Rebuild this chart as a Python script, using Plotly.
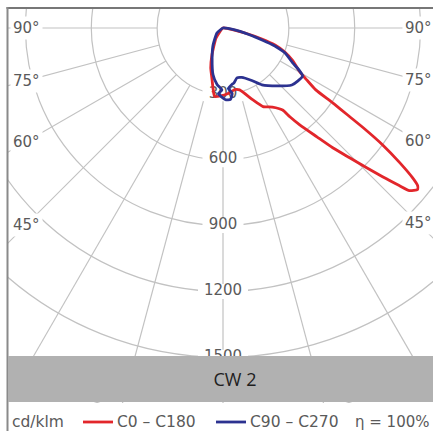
import numpy as np
import plotly.graph_objects as go

# ---------------- data ----------------
# polar angle gamma in degrees measured from nadir (negative = C180 / C270 side)
red_gamma = [-45, -35, -22, -17, -13, -9.5, -7, -2, 4, 11, 15, 22.6, 27, 32, 36,
             37, 38.4, 40.8, 42.5, 44.3, 45.8, 47, 48.2, 48.9, 50.3, 51, 51.7,
             52.7, 53.8, 54.5, 55, 55.7, 56.3, 58.2, 60.3, 64.8, 68.8, 71.9,
             74.2, 77.2, 84, 90]
red_I = [0, 55, 136, 191, 228, 277, 314, 309, 300, 286, 292, 355, 402, 425, 462,
         506, 563, 655, 740, 826, 913, 994, 1077, 1127, 1152, 1141, 1100,
         1012, 900, 798, 705, 605, 508, 449, 403, 352, 302, 249,
         184, 103, 23, 0]

blue_gamma = [-90, -50, -30, -20, -12, -6, -1, -4, 2, 6, 8, 5, 9.5, 11.3, 15.6,
              20.8, 28.7, 34.4, 43.5, 50.4, 54.8, 59, 60.8, 63.4, 68, 70.9, 73,
              77, 85, 90]
blue_I = [0, 36, 91, 145, 218, 259, 282, 300, 327, 327, 300, 277, 259, 255, 236,
          241, 273, 314, 364, 407, 418, 423, 400, 355, 305, 250, 186,
          103, 23, 0]

radial_ticks = [300, 600, 900, 1200, 1500]
radial_tick_labels = ["300", "600", "900", "1200", "1500"]
angle_ticks = [90, 75, 60, 45]
angle_tick_labels = ["90°", "75°", "60°", "45°"]
grid_angles = [-90, -75, -60, -45, -30, -15, 0, 15, 30, 45, 60, 75, 90]
series_names = ["C0 – C180", "C90 – C270"]
unit_label = "cd/klm"
efficiency_label = "η = 100%"
title_label = "CW 2"

# ---------------- layout geometry ----------------
W, H = 433, 434
ML, MR, MT, MB = 8, 0, 9, 31
CX, CY = 223, 28          # pixel position of polar origin
S = 0.2195                # pixels per cd/klm
GRID = "#c2c2c2"
LABEL = "#5a5a5a"
FONT = "DejaVu Sans"

xr = [-(CX - ML) / S, (W - MR - CX) / S]
yr = [-(H - MB - CY) / S, (CY - MT) / S]


def px(x):
    return (x - ML) / (W - ML - MR)


def py(y):
    return (H - MB - y) / (H - MT - MB)


def to_xy(g, I):
    g = np.radians(np.asarray(g, float))
    I = np.asarray(I, float)
    return I * np.sin(g), -I * np.cos(g)


shapes = []
# grid circles
for r in radial_ticks + [radial_ticks[-1] + 300]:
    shapes.append(dict(type="circle", xref="x", yref="y", x0=-r, x1=r, y0=-r, y1=r,
                       line=dict(color=GRID, width=1.2), layer="below"))
# radial grid lines (start on the innermost circle)
r0, r1 = radial_ticks[0], 3000
for a in grid_angles:
    x0, y0 = to_xy([a], [r0])
    x1, y1 = to_xy([a], [r1])
    shapes.append(dict(type="line", xref="x", yref="y", x0=x0[0], y0=y0[0],
                       x1=x1[0], y1=y1[0], line=dict(color=GRID, width=1.2),
                       layer="below"))
# white boxes behind radial tick labels
for r, lab in zip(radial_ticks, radial_tick_labels):
    wpx = 14 + 9 * len(lab)
    hpx = 15
    shapes.append(dict(type="rect", xref="x", yref="y",
                       x0=-wpx / 2 / S, x1=wpx / 2 / S,
                       y0=-r - hpx / 2 / S, y1=-r + hpx / 2 / S,
                       fillcolor="white", line=dict(width=0), layer="below"))

# frame borders
shapes.append(dict(type="line", xref="paper", yref="paper", x0=px(6.5), x1=px(440),
                   y0=py(8), y1=py(8), line=dict(color="#777777", width=2.2)))
shapes.append(dict(type="line", xref="paper", yref="paper", x0=px(7.5), x1=px(7.5),
                   y0=py(7), y1=py(431), line=dict(color="#8a8a8a", width=2)))

fig = go.Figure()

# radial tick labels (under the curves)
fig.add_trace(go.Scatter(
    x=[0] * len(radial_ticks), y=[-r for r in radial_ticks],
    text=radial_tick_labels, mode="text", textposition="middle center",
    textfont=dict(family=FONT, size=15, color=LABEL),
    hoverinfo="skip", showlegend=False))

colors = ["#e2262b", "#2c3290"]
for g, I, name, col in [(red_gamma, red_I, series_names[0], colors[0]),
                        (blue_gamma, blue_I, series_names[1], colors[1])]:
    x, y = to_xy(g, I)
    fig.add_trace(go.Scatter(x=x, y=y, mode="lines", name=name,
                             line=dict(color=col, width=2.8, shape="spline",
                                       smoothing=0.5),
                             showlegend=False))

annotations = []
# angle labels on both frame sides
for a, lab in zip(angle_ticks, angle_tick_labels):
    for side, off in [(-1, CX - 26), (1, 418 - CX)]:
        d = off / S
        yv = -d / np.tan(np.radians(a)) if a != 90 else 0.0
        annotations.append(dict(x=side * d, y=yv, xref="x", yref="y", text=lab,
                                showarrow=False, xanchor="center", yanchor="middle",
                                bgcolor="white", borderpad=2,
                                font=dict(family=FONT, size=15, color=LABEL)))

# grey title band (drawn over the lower part of the 1500 label)
annotations.append(dict(x=px(8), y=py(379), xref="paper", yref="paper",
                        xanchor="left", yanchor="middle", text=title_label,
                        showarrow=False, width=454, height=46, bgcolor="#b1b1b1",
                        borderpad=0, borderwidth=0, align="center", valign="middle",
                        font=dict(family="Open Sans", size=18, color="#1e1e1e")))

# legend row
leg_y = 422
annotations.append(dict(x=px(10), y=py(leg_y), xref="paper", yref="paper",
                        xanchor="left", yanchor="middle", text=unit_label,
                        showarrow=False, font=dict(family=FONT, size=15.5, color=LABEL)))
for (l0, l1, t0), name, col in zip([(83, 113, 115), (216, 246, 248)],
                                   series_names, colors):
    shapes.append(dict(type="line", xref="paper", yref="paper", x0=px(l0), x1=px(l1),
                       y0=py(leg_y), y1=py(leg_y), line=dict(color=col, width=2.8)))
    annotations.append(dict(x=px(t0), y=py(leg_y), xref="paper", yref="paper",
                            xanchor="left", yanchor="middle", text=name,
                            showarrow=False,
                            font=dict(family=FONT, size=15.5, color=LABEL)))
annotations.append(dict(x=px(432), y=py(leg_y), xref="paper", yref="paper",
                        xanchor="right", yanchor="middle", text=efficiency_label,
                        showarrow=False, font=dict(family=FONT, size=15, color=LABEL)))

fig.update_layout(
    width=W, height=H, margin=dict(l=ML, r=MR, t=MT, b=MB, pad=0),
    paper_bgcolor="white", plot_bgcolor="white",
    xaxis=dict(range=xr, visible=False, showgrid=False, zeroline=False, fixedrange=True),
    yaxis=dict(range=yr, visible=False, showgrid=False, zeroline=False, fixedrange=True),
    shapes=shapes, annotations=annotations, showlegend=False,
)

fig.write_html("out.html", config={"displayModeBar": False},
               post_script="document.body.style.margin='0px';"
                           "document.body.style.overflow='hidden';")
